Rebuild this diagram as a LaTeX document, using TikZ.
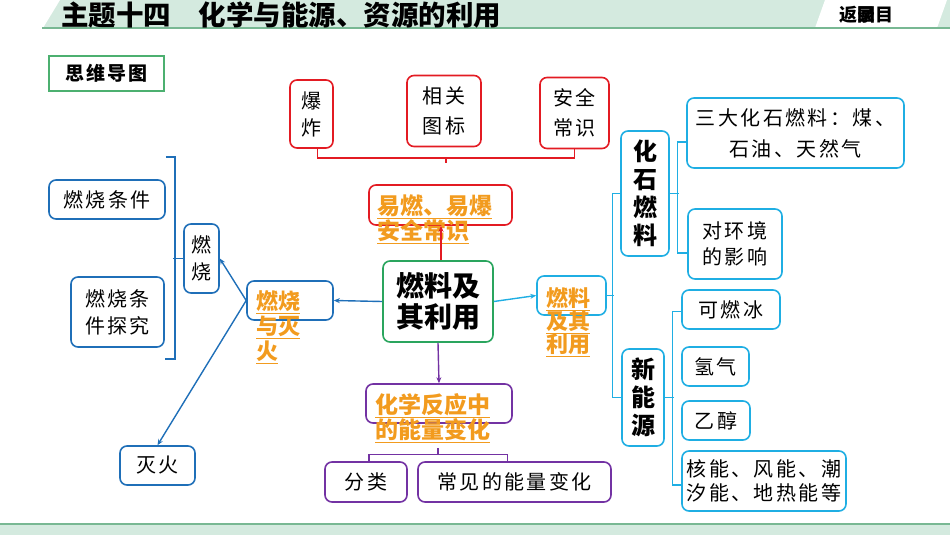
\documentclass[tikz,border=0pt]{standalone}
\usepackage{fontspec}
\setmainfont{Noto Sans CJK SC}
\newfontfamily\weit{Noto Sans CJK SC}[LetterSpace=12]
\usetikzlibrary{arrows.meta}

\definecolor{rot}{HTML}{E31B23}
\definecolor{blau}{HTML}{1F6FB8}
\definecolor{hellblau}{HTML}{1FAEE3}
\definecolor{lila}{HTML}{7332A3}
\definecolor{gruen}{HTML}{2AA55E}
\definecolor{titelgruen}{HTML}{4CB070}
\definecolor{orangetext}{HTML}{F29B1E}
\definecolor{kopf}{HTML}{D4EADF}
\definecolor{kopflinie}{HTML}{78B893}

\begin{document}
\begin{tikzpicture}[x=1pt,y=-1pt,
	box/.style={draw,rounded corners=7pt,line width=1.6pt,inner sep=0pt,align=center,font=\weit\fontsize{20}{27}\selectfont},
	fettbox/.style={box,font=\bfseries\fontsize{24}{28}\selectfont},
	orangeschrift/.style={inner sep=0pt,align=left,text=orangetext,anchor=north west},
	linie/.style={line width=1.4pt},
	pfeil/.style={line width=1.4pt,-{Stealth[length=6pt,width=5pt]}}]
	\useasboundingbox (0,0) rectangle (950,535);

	% Kopfzeile
	\fill[kopf] (0,0) rectangle (950,28);
	\fill[white] (0,0) -- (60,0) -- (43,28) -- (0,28) -- cycle;
	\fill[white] (815,28) -- (825,0) -- (947,0) -- (937,28) -- cycle;
	\draw[kopflinie,line width=2pt] (42,28.5) -- (950,28.5);
	\node[anchor=west,inner sep=0pt,font=\bfseries\fontsize{27.5}{27.5}\selectfont] (titel) at (61,15) {主题十四\hspace{1em}化学与能源、资源的利用};
	\node[inner sep=0pt,font=\bfseries\fontsize{18}{18}\selectfont] (zurueck) at (866,15) {返\rlap{回}录目};

	% Fusszeile
	\fill[kopf] (0,524) rectangle (950,535);
	\draw[kopflinie,line width=1.5pt] (0,524) -- (950,524);

	% Ueberschrift
	\node[draw=titelgruen,line width=1.4pt,minimum width=115pt,minimum height=35pt,font=\weit\bfseries\fontsize{19}{19}\selectfont] (kopfbox) at (106.5,73.5) {思维导图};

	% Mitte
	\node[box,draw=gruen,minimum width=110pt,minimum height=81pt,font=\bfseries\fontsize{28}{31}\selectfont] (mitte) at (438,301.5) {燃料及\\其利用};

	% Oben: Sicherheit
	\node[box,draw=rot,minimum width=43pt,minimum height=68pt] (bz) at (311.5,114) {爆\\炸};
	\node[box,draw=rot,minimum width=74pt,minimum height=71pt,font=\weit\fontsize{20}{30}\selectfont] (tb) at (444,111) {相关\\图标};
	\node[box,draw=rot,minimum width=69pt,minimum height=71pt,font=\weit\fontsize{20}{30}\selectfont] (aq) at (574.5,113) {安全\\常识};
	\node[box,draw=rot,minimum width=143pt,minimum height=40pt] (yr) at (440.5,205) {};
	\node[orangeschrift,font=\bfseries\fontsize{23}{24}\selectfont] (yrt) at ([xshift=9pt,yshift=-10pt]yr.north west) {\underline{易燃、易爆}\\\underline{安全常识}};
	\coordinate (rk) at (446,157);
	\coordinate (rk2) at (446,163);
	\draw[rot,linie] ([xshift=6pt]bz.south) -- ++(0,9) -| (aq.south);
	\draw[rot,linie] (rk) -- (rk2);
	\draw[rot,pfeil] ([xshift=3pt]mitte.north) -- ([xshift=3pt]mitte.north |- yr.south);

	% Links: Verbrennung
	\node[box,draw=blau,minimum width=86pt,minimum height=39pt] (rm) at (290,300.5) {};
	\node[orangeschrift,font=\bfseries\fontsize{22}{25}\selectfont] (rmt) at ([xshift=10pt,yshift=-10pt]rm.north west) {\underline{燃烧}\\\underline{与灭}\\\underline{火}};
	\node[box,draw=blau,minimum width=35pt,minimum height=69pt] (rs) at (201.5,258.5) {燃\\烧};
	\node[box,draw=blau,minimum width=116pt,minimum height=39pt] (tj) at (107,199.5) {燃烧条件};
	\node[box,draw=blau,minimum width=93pt,minimum height=70pt] (tt) at (117.5,312) {燃烧条\\件探究};
	\node[box,draw=blau,minimum width=75pt,minimum height=39pt] (mh) at (157.5,465.5) {灭火};
	\draw[blau,pfeil] (mitte.west) -- (rm.east);
	\draw[blau,pfeil] (rm.west) -- (rs.east);
	\draw[blau,pfeil] (rm.west) -- (mh.north);
	\draw[blau,linie] (rs.west) -- ++(-10,0);
	\draw[blau,linie] ([yshift=42.5pt]tj.east) -- ++(9,0) |- ([yshift=-47pt]tt.east);

	% Unten: Energie
	\node[box,draw=lila,minimum width=146pt,minimum height=39pt] (hf) at (439,403.5) {};
	\node[orangeschrift,font=\bfseries\fontsize{23}{24}\selectfont] (hft) at ([xshift=10pt,yshift=-10pt]hf.north west) {\underline{化学反应中}\\\underline{的能量变化}};
	\node[box,draw=lila,minimum width=82pt,minimum height=40pt] (fl) at (366,482) {分类};
	\node[box,draw=lila,minimum width=193pt,minimum height=40pt] (bh) at (514.5,482) {常见的能量变化};
	\coordinate (lk) at (438,448);
	\coordinate (lk2) at (438,455);
	\draw[lila,pfeil] (mitte.south) -- (hf.north);
	\draw[lila,linie] ([xshift=3pt]fl.north) -- ++(0,-7) -| ([xshift=-7pt]bh.north);
	\draw[lila,linie] (lk) -- (lk2);

	% Rechts: Brennstoffe
	\node[box,draw=hellblau,minimum width=69pt,minimum height=39pt] (rl) at (571.5,295.5) {};
	\node[orangeschrift,font=\bfseries\fontsize{22}{23}\selectfont] (rlt) at ([xshift=10pt,yshift=-12pt]rl.north west) {\underline{燃料}\\\underline{及其}\\\underline{利用}};
	\node[fettbox,draw=hellblau,minimum width=48pt,minimum height=125pt] (hs) at (645,193.5) {化\\石\\燃\\料};
	\node[box,draw=hellblau,minimum width=217pt,minimum height=70pt,font=\weit\fontsize{20}{31}\selectfont] (sd) at (795.5,133) {三大化石燃料：煤、\\石油、天然气};
	\node[box,draw=hellblau,minimum width=94pt,minimum height=70pt,font=\weit\fontsize{20}{26}\selectfont] (hj) at (735,244) {对环境\\的影响};
	\node[fettbox,draw=hellblau,minimum width=42pt,minimum height=97pt] (xn) at (643,397.5) {新\\能\\源};
	\node[box,draw=hellblau,minimum width=98pt,minimum height=39pt] (kr) at (731,309.5) {可燃冰};
	\node[box,draw=hellblau,minimum width=67pt,minimum height=39pt] (qq) at (715.5,366.5) {氢气};
	\node[box,draw=hellblau,minimum width=68pt,minimum height=39pt] (yc) at (716,420.5) {乙醇};
	\node[box,draw=hellblau,minimum width=164pt,minimum height=60pt,font=\weit\fontsize{20}{24}\selectfont] (he) at (764,481) {核能、风能、潮\\汐能、地热能等};
	\draw[hellblau,pfeil] (mitte.east) -- (rl.west);
	\draw[hellblau,linie] (rl.east) -- ++(7,0);
	\draw[hellblau,linie] (hs.west) -- ++(-8,0) |- (xn.west);
	\draw[hellblau,linie] (hs.east) -- ++(9,0);
	\draw[hellblau,linie] ([yshift=-9pt]sd.west) -- ++(-9,0) |- ([yshift=-9pt]hj.west);
	\draw[hellblau,linie] (xn.east) -- ++(9,0);
	\draw[hellblau,linie] ([yshift=-2pt]kr.west) -- ++(-9,0) |- ([yshift=-4pt]he.west);
\end{tikzpicture}
\end{document}
